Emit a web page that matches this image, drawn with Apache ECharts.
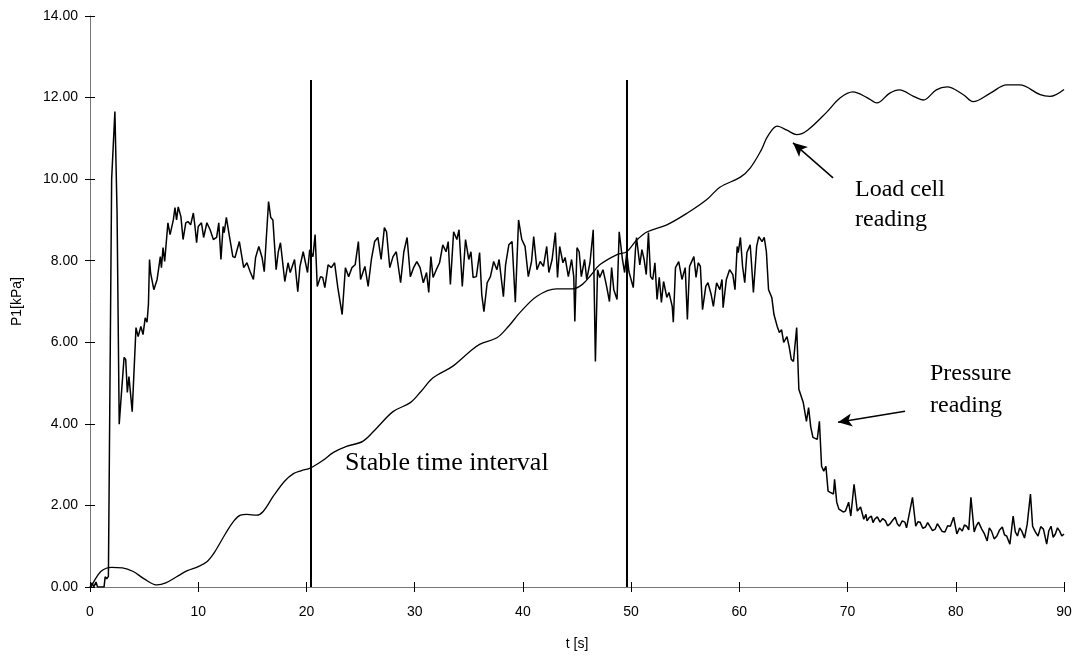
<!DOCTYPE html>
<html><head><meta charset="utf-8">
<script src="https://cdn.jsdelivr.net/npm/echarts@6/dist/echarts.min.js"></script>
<style>html,body{margin:0;padding:0;background:#fff}#c{width:1078px;height:656px}</style>
</head><body><div id="c"></div>
<script>
// ---- data ----
const xTicks = [0, 10, 20, 30, 40, 50, 60, 70, 80, 90];
const yTicks = [0, 2, 4, 6, 8, 10, 12, 14];
const pressure = [
[0,0],[0.2,0.1],[0.35,0],[0.55,0.12],[0.7,0],[1.3,0],[1.4,0.25],[1.55,0.2],[1.7,0.26],
[2.0,10.0],[2.3,11.66],[2.5,9.2],[2.7,3.99],[2.85,4.55],[3.15,5.63],[3.3,5.58],[3.45,4.77],[3.6,5.16],[3.9,4.3],
[4.25,6.36],[4.45,6.14],[4.7,6.39],[4.9,6.19],[5.1,6.6],[5.27,6.49],[5.4,6.93],[5.5,8.03],[5.6,7.7],[5.9,7.29],
[6.2,7.54],[6.5,8.1],[6.6,7.83],[6.75,8.32],[6.9,7.98],[7.2,8.93],[7.4,8.64],[7.7,9.0],[7.85,9.3],[8.0,9.0],
[8.15,9.32],[8.4,9.08],[8.6,8.52],[8.85,8.93],[9.05,8.96],[9.3,8.88],[9.55,9.17],[9.7,8.84],[9.85,8.44],[10.0,8.84],
[10.3,8.93],[10.5,8.57],[10.8,8.93],[11.1,8.76],[11.4,8.52],[11.7,8.57],[11.9,8.93],[12.1,8.03],[12.3,8.84],[12.4,8.69],
[12.6,9.06],[12.9,8.57],[13.2,8.10],[13.4,8.08],[13.8,8.47],[14.2,7.83],[14.5,7.95],[14.8,7.73],[15.1,7.54],[15.3,8.08],
[15.6,8.35],[15.9,8.08],[16.1,7.73],[16.5,9.45],[16.7,9.06],[16.9,9.0],[17.2,7.78],[17.4,8.22],[17.6,8.44],[18.0,7.49],
[18.3,7.95],[18.5,7.71],[18.9,8.03],[19.2,7.24],[19.4,7.86],[19.7,8.22],[20.1,7.71],[20.3,8.27],[20.6,8.10],[20.8,8.64],
[21.0,7.37],[21.3,7.61],[21.5,7.59],[21.7,7.34],[22.0,7.90],[22.3,7.83],[22.6,7.95],[22.9,7.34],[23.3,6.68],[23.6,7.83],
[23.9,7.61],[24.2,7.83],[24.5,7.90],[24.8,8.47],[25.0,7.54],[25.4,7.86],[25.7,7.37],[26.0,8.03],[26.3,8.47],[26.6,8.57],
[26.9,8.03],[27.2,8.81],[27.4,8.71],[27.7,7.83],[28.0,8.10],[28.3,8.22],[28.7,7.46],[29.0,8.22],[29.3,8.57],[29.6,7.61],
[29.9,7.83],[30.2,7.98],[30.5,7.83],[30.8,7.46],[31.1,7.71],[31.3,7.22],[31.5,8.10],[31.7,7.59],[32.0,7.78],[32.3,7.95],
[32.6,8.39],[32.9,8.22],[33.1,8.47],[33.3,7.42],[33.6,8.71],[33.9,8.52],[34.1,8.76],[34.4,7.37],[34.7,8.52],[35.0,8.03],
[35.2,8.22],[35.4,7.59],[35.7,7.61],[36.0,8.20],[36.2,7.17],[36.4,6.75],[36.7,7.46],[37.0,7.61],[37.3,7.98],[37.6,7.78],
[37.8,8.03],[38.2,7.12],[38.4,7.90],[38.7,8.39],[39.0,8.47],[39.3,6.98],[39.6,9.00],[39.9,8.52],[40.2,8.35],[40.5,7.61],
[40.8,7.98],[41.0,8.59],[41.3,7.78],[41.6,7.98],[41.9,7.86],[42.2,8.35],[42.4,7.71],[42.7,8.03],[43.0,8.69],[43.2,7.59],
[43.4,8.35],[43.7,7.95],[43.9,8.08],[44.2,7.61],[44.5,8.03],[44.7,7.61],[44.8,6.51],[45.0,8.32],[45.2,8.22],[45.4,7.61],
[45.7,8.03],[45.9,7.54],[46.2,7.95],[46.5,8.76],[46.7,5.53],[46.9,7.78],[47.1,7.59],[47.4,7.78],[47.7,7.42],[48.0,7.0],
[48.2,7.83],[48.4,7.29],[48.7,7.05],[48.9,8.71],[49.2,8.03],[49.4,7.71],[49.6,8.2],[49.8,7.73],[50.2,7.34],[50.4,8.27],
[50.5,8.57],[50.8,7.9],[51.0,8.27],[51.2,8.03],[51.4,7.66],[51.6,8.69],[51.8,7.61],[52.0,7.54],[52.2,7.95],[52.4,7.05],
[52.6,7.59],[52.8,6.98],[53.0,7.49],[53.3,7.10],[53.5,7.22],[53.8,6.88],[53.9,6.49],[54.1,7.83],[54.4,7.98],[54.7,7.54],
[55.0,7.83],[55.2,6.56],[55.4,7.86],[55.8,8.10],[56.0,7.59],[56.2,7.95],[56.4,7.86],[56.6,6.80],[56.9,7.37],[57.1,7.46],
[57.4,7.17],[57.6,6.88],[57.9,7.46],[58.2,7.29],[58.4,7.54],[58.5,6.85],[58.8,7.54],[59.1,7.78],[59.4,7.66],[59.6,7.29],
[59.8,8.35],[59.9,8.20],[60.1,8.57],[60.3,7.86],[60.5,7.46],[60.7,8.20],[61.0,8.39],[61.1,8.03],[61.3,7.22],[61.6,8.35],
[61.8,8.59],[62.1,8.47],[62.3,8.57],[62.5,8.22],[62.7,7.29],[63.0,7.10],[63.2,6.68],[63.5,6.39],[63.7,6.24],[63.9,6.31],
[64.1,6.00],[64.4,6.14],[64.6,5.90],[64.8,5.58],[65.0,5.53],[65.3,6.36],[65.5,4.85],[65.9,4.53],[66.2,4.06],[66.4,4.40],
[66.6,3.92],[66.8,3.67],[67.2,3.62],[67.4,4.06],[67.6,2.96],[67.8,2.84],[68.0,2.96],[68.2,2.35],[68.4,2.32],[68.7,2.28],
[68.8,2.64],[69.0,2.08],[69.2,1.91],[69.6,1.84],[69.8,1.86],[70.1,2.08],[70.3,1.74],[70.6,2.52],[70.9,1.86],[71.2,1.96],
[71.5,1.66],[71.7,1.78],[71.8,1.62],[72.0,1.70],[72.2,1.74],[72.35,1.58],[72.5,1.66],[72.75,1.72],[73.0,1.59],[73.25,1.68],
[73.5,1.62],[73.7,1.50],[73.9,1.54],[74.15,1.63],[74.4,1.71],[74.6,1.55],[74.8,1.49],[75.05,1.62],[75.3,1.59],[75.45,1.45],
[75.6,1.47],[76.0,2.20],[76.3,1.49],[76.5,1.60],[76.7,1.59],[76.95,1.44],[77.2,1.47],[77.4,1.58],[77.6,1.49],[77.85,1.38],
[78.1,1.42],[78.3,1.55],[78.5,1.47],[78.75,1.36],[79.0,1.35],[79.25,1.50],[79.5,1.49],[79.8,1.71],[80.1,1.30],[80.35,1.45],
[80.6,1.37],[80.8,1.52],[81.0,1.49],[81.2,1.40],[81.4,2.20],[81.7,1.35],[81.9,1.50],[82.1,1.59],[82.4,1.42],[82.65,1.30],
[82.9,1.13],[83.1,1.45],[83.3,1.37],[83.55,1.18],[83.8,1.25],[84.05,1.40],[84.3,1.47],[84.5,1.28],[84.7,1.25],[85.0,1.05],
[85.3,1.74],[85.5,1.35],[85.7,1.25],[85.9,1.45],[86.1,1.37],[86.35,1.20],[86.6,1.54],[86.9,2.28],[87.1,1.49],[87.35,1.35],
[87.6,1.25],[87.85,1.48],[88.1,1.42],[88.4,1.05],[88.6,1.38],[88.8,1.49],[89.0,1.22],[89.2,1.30],[89.4,1.45],[89.6,1.37],
[89.8,1.25],[90.0,1.30]
];
const loadCell = [
[0.1,0],[0.5,0.2],[1,0.38],[1.5,0.46],[2,0.48],[3,0.47],[4,0.38],[5,0.2],[6.2,0.05],[7,0.1],[8,0.25],[9,0.4],
[10,0.5],[10.8,0.62],[11.5,0.85],[12.5,1.3],[13.3,1.62],[13.9,1.76],[14.5,1.78],[15.4,1.76],[16,1.85],[17,2.25],
[18,2.6],[18.8,2.78],[19.5,2.85],[20.4,2.92],[21.5,3.1],[22.5,3.3],[23.7,3.45],[25.2,3.57],[26.5,3.9],[28,4.3],
[29.6,4.52],[30.6,4.8],[31.7,5.13],[33.5,5.41],[35,5.75],[36,5.95],[37.6,6.11],[38.7,6.4],[39.7,6.72],[41.3,7.13],
[43.1,7.31],[44.6,7.31],[45.5,7.42],[46.3,7.65],[47.1,7.9],[48.7,8.15],[49.6,8.22],[50.5,8.5],[51.5,8.71],[53.3,8.88],
[55.2,9.17],[57,9.5],[58.2,9.8],[60.1,10.05],[61,10.27],[62,10.7],[62.6,11.04],[63.5,11.3],[64.4,11.2],[65.3,11.09],
[66.3,11.2],[68.1,11.65],[69.3,11.99],[70.5,12.14],[71.8,12.0],[72.7,11.87],[73.9,12.11],[74.8,12.19],[76.1,12.03],
[77,11.94],[78.2,12.19],[79.2,12.26],[80.7,12.07],[81.6,11.9],[83.2,12.11],[84.7,12.31],[85.9,12.31],[87.8,12.07],
[88.7,12.03],[90,12.2]
];
const stableBounds = [20.4, 49.6];
const stableTop = 12.43;
const loadArrow = [[68.66, 10.03], [64.96, 10.89]];
const pressureArrow = [[75.31, 4.31], [69.12, 4.04]];

// ---- chart ----
const chart = echarts.init(document.getElementById('c'), null, {renderer: 'canvas'});
const axisCol = '#777';
const baseX = {type: 'value', min: xTicks[0], max: xTicks[xTicks.length - 1], interval: 10, gridIndex: 0, position: 'bottom', splitLine: {show: false}};
const baseY = {type: 'value', min: yTicks[0], max: yTicks[yTicks.length - 1], interval: 2, gridIndex: 0, position: 'left', splitLine: {show: false}};
const marks = [];
stableBounds.forEach(t => marks.push([{coord: [t, 0]}, {coord: [t, stableTop]}]));
const arrows = [
  [{coord: loadArrow[0]}, {coord: loadArrow[1]}],
  [{coord: pressureArrow[0]}, {coord: pressureArrow[1]}]
];
chart.setOption({
  animation: false,
  backgroundColor: '#fff',
  grid: {left: 90, right: 14, top: 16, bottom: 68},
  xAxis: [
    Object.assign({}, baseX, {
      name: 't [s]', nameLocation: 'middle', nameGap: 50,
      nameTextStyle: {color: '#000', fontSize: 14, fontFamily: 'Liberation Sans'},
      axisLine: {show: true, onZero: false, lineStyle: {color: axisCol, width: 1}},
      axisTick: {show: true, inside: false, length: 5, lineStyle: {color: '#000'}},
      axisLabel: {color: '#000', fontSize: 14, fontFamily: 'Liberation Sans', margin: 18}
    }),
    Object.assign({}, baseX, {
      axisLine: {show: false}, axisLabel: {show: false},
      axisTick: {show: true, inside: true, length: 5, lineStyle: {color: '#000'}}
    })
  ],
  yAxis: [
    Object.assign({}, baseY, {
      name: 'P1[kPa]', nameLocation: 'middle', nameGap: 66, nameRotate: 90,
      nameTextStyle: {color: '#000', fontSize: 14, fontFamily: 'Liberation Sans'},
      axisLine: {show: true, onZero: false, lineStyle: {color: axisCol, width: 1}},
      axisTick: {show: true, inside: false, length: 5, lineStyle: {color: '#000'}},
      axisLabel: {color: '#000', fontSize: 14, fontFamily: 'Liberation Sans', margin: 12,
        formatter: v => v.toFixed(2)}
    }),
    Object.assign({}, baseY, {
      axisLine: {show: false}, axisLabel: {show: false},
      axisTick: {show: true, inside: true, length: 5, lineStyle: {color: '#000'}}
    })
  ],
  series: [
    {
      name: 'Load cell', type: 'line', data: loadCell, smooth: 0.35, showSymbol: false,
      lineStyle: {color: '#000', width: 1.3}, z: 3
    },
    {
      name: 'Pressure', type: 'line', data: pressure, showSymbol: false,
      lineStyle: {color: '#000', width: 1.5}, z: 4
    },
    {
      name: 'marks', type: 'line', data: [],
      markLine: {
        silent: true, symbol: ['none', 'none'], label: {show: false},
        lineStyle: {color: '#000', width: 2, type: 'solid'},
        data: marks
      }
    },
    {
      name: 'arrows', type: 'line', data: [],
      markLine: {
        silent: true, symbol: ['none', 'arrow'], symbolSize: [10, 14], label: {show: false},
        lineStyle: {color: '#000', width: 1.5, type: 'solid'},
        data: arrows
      }
    }
  ],
  graphic: [
    {type: 'text', left: 345, top: 450, style: {text: 'Stable time interval', font: '26px "Liberation Serif"', fill: '#000'}},
    {type: 'text', left: 855, top: 175, style: {text: 'Load cell\nreading', font: '24px "Liberation Serif"', fill: '#000', lineHeight: 30}},
    {type: 'text', left: 930, top: 358, style: {text: 'Pressure\nreading', font: '24px "Liberation Serif"', fill: '#000', lineHeight: 32}}
  ]
});
</script></body></html>
